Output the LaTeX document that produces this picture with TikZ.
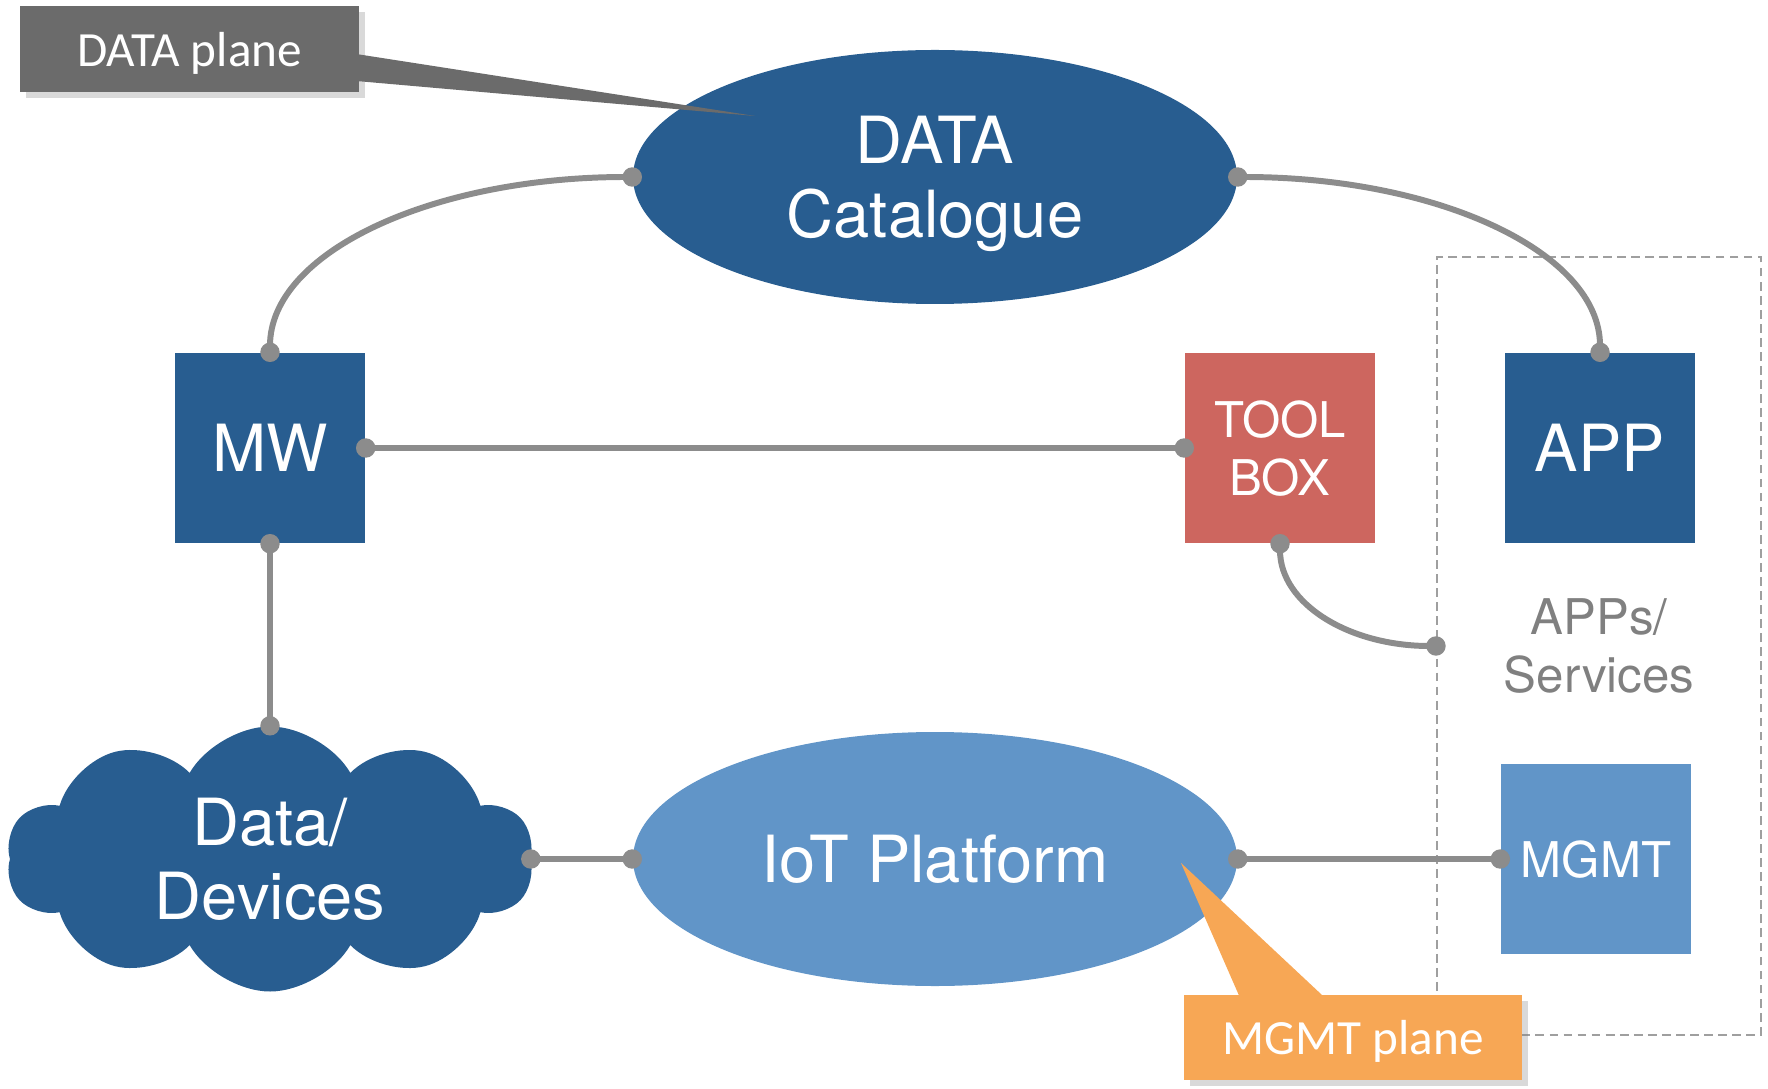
\documentclass[tikz,border=0pt]{standalone}
\usepackage{fontspec}
\setmainfont{TeX Gyre Heros}
\newfontfamily\calloutfont{Carlito}
\usetikzlibrary{shapes.geometric,shapes.symbols,arrows.meta,shadows}

\definecolor{darkblue}{HTML}{285D90}
\definecolor{lightblue}{HTML}{6195C8}
\definecolor{toolred}{HTML}{CD665F}
\definecolor{mgmtorange}{HTML}{F7A755}
\definecolor{planegray}{HTML}{6B6B6B}
\definecolor{linkgray}{HTML}{8C8C8C}

\begin{document}
\begin{tikzpicture}[
	bigtext/.style={font=\fontsize{18.5}{21}\selectfont, text=white, align=center, text depth=0pt},
	smalltext/.style={font=\fontsize{14}{16.5}\selectfont, text=white, align=center, text depth=0pt},
	blob/.style={ellipse, minimum width=6.04cm, minimum height=2.54cm, bigtext},
	block/.style={rectangle, minimum size=1.9cm, inner sep=0pt},
	link/.style={draw=linkgray, line width=1.7pt, {Circle[length=5.5pt]}-{Circle[length=5.5pt]}, shorten <=-2.75pt, shorten >=-2.75pt},
	plane/.style={rectangle, minimum width=3.39cm, minimum height=0.86cm, text=white, text depth=0pt,
		font=\calloutfont\fontsize{14}{17}\selectfont,
		drop shadow={opacity=0.3, shadow xshift=0.6mm, shadow yshift=-0.6mm}}
	]
	\useasboundingbox (0,0) rectangle (17.68,10.88);
	
	% apps / services area
	\node[draw=gray!75, line width=0.6pt, dash pattern=on 2.5pt off 1.5pt,
		minimum width=3.24cm, minimum height=7.78cm, text depth=0pt,
		text=gray, font=\fontsize{14}{16.5}\selectfont, align=center] (apps) at (15.99,4.42) {APPs/\\Services};
	
	\node[blob, fill=darkblue] (dc) at (9.35,9.11) {DATA\\Catalogue};
	\node[blob, fill=lightblue] (iot) at (9.35,2.29) {IoT Platform};
	
	\node[block, fill=darkblue, bigtext] (mw) at (2.70,6.40) {MW};
	\node[block, fill=toolred, smalltext] (tool) at (12.80,6.40) {TOOL\\BOX};
	\node[block, fill=darkblue, bigtext] (app) at (16.00,6.40) {APP};
	\node[block, fill=lightblue, smalltext] (mgmt) at (15.96,2.29) {MGMT};
	
	\node[cloud, cloud puffs=10, cloud puff arc=120, aspect=2, inner sep=0pt,
		minimum width=5.27cm, minimum height=2.65cm, fill=darkblue, bigtext] (dd) at (2.70,2.29) {Data/\\Devices};
	
	% links
	\draw[link] (dc.west) to[out=180, in=90, out distance=2cm, in distance=1cm] (mw.north);
	\draw[link] (dc.east) to[out=0, in=90, out distance=2cm, in distance=1cm] (app.north);
	\draw[link] (mw.east) -- (tool.west);
	\draw[link] (mw.south) -- (dd.north);
	\draw[link] (tool.south) to[out=-90, in=180, out distance=0.6cm, in distance=0.87cm] (apps.west);
	\draw[link] (dd.east) -- (iot.west);
	\draw[link] (iot.east) -- (mgmt.west);
	
	% plane labels
	\node[plane, fill=planegray] (dplane) at (1.895,10.39) {DATA plane};
	\coordinate (dtip) at (7.55,9.72);
	\fill[planegray] ([xshift=-1pt,yshift=-0.5mm]dplane.east) -- (dtip) -- ([xshift=-1pt,yshift=-3.2mm]dplane.east) -- cycle;
	
	\node[plane, fill=mgmtorange, minimum width=3.38cm, minimum height=0.85cm] (mplane) at (13.53,0.505) {MGMT plane};
	\coordinate (mtip) at (11.81,2.25);
	\fill[mgmtorange] ([xshift=-11.3mm,yshift=-1pt]mplane.north) -- (mtip) -- ([xshift=-2.8mm,yshift=-1pt]mplane.north) -- cycle;
\end{tikzpicture}
\end{document}
